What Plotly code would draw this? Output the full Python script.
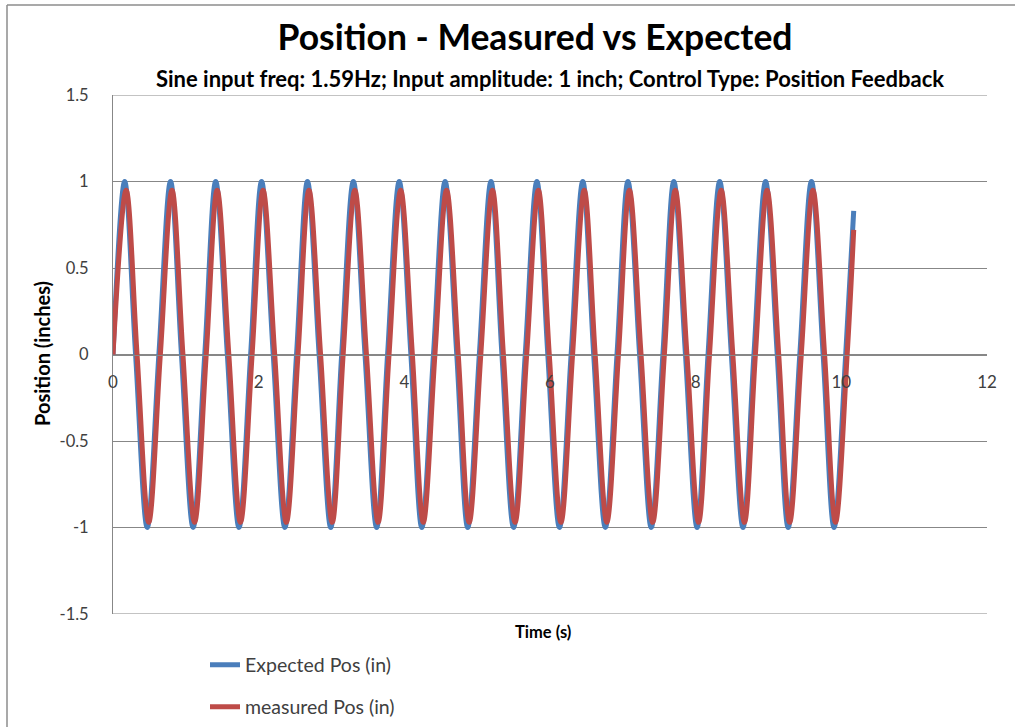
import plotly.graph_objects as go

# ---- data ----
expected_t = [0.00, 0.16, 0.31, 0.47, 0.63, 0.79, 0.94, 1.10, 1.26, 1.41, 1.57, 1.73, 1.89,
              2.04, 2.20, 2.36, 2.52, 2.67, 2.83, 2.99, 3.14, 3.30, 3.46, 3.62, 3.77, 3.93,
              4.09, 4.24, 4.40, 4.56, 4.72, 4.87, 5.03, 5.19, 5.34, 5.50, 5.66, 5.82, 5.97,
              6.13, 6.29, 6.45, 6.60, 6.76, 6.92, 7.07, 7.23, 7.39, 7.55, 7.70, 7.86, 8.02,
              8.17, 8.33, 8.49, 8.65, 8.80, 8.96, 9.12, 9.27, 9.43, 9.59, 9.75, 9.90, 10.06,
              10.17]
expected_pos = [0, 1, 0, -1, 0, 1, 0, -1, 0, 1, 0, -1, 0,
                1, 0, -1, 0, 1, 0, -1, 0, 1, 0, -1, 0, 1,
                0, -1, 0, 1, 0, -1, 0, 1, 0, -1, 0, 1, 0,
                -1, 0, 1, 0, -1, 0, 1, 0, -1, 0, 1, 0, -1,
                0, 1, 0, -1, 0, 1, 0, -1, 0, 1, 0, -1, 0,
                0.83]

measured_t = [0.00, 0.18, 0.33, 0.49, 0.65, 0.81, 0.96, 1.12, 1.28, 1.43, 1.59, 1.75, 1.91,
              2.06, 2.22, 2.38, 2.54, 2.69, 2.85, 3.01, 3.16, 3.32, 3.48, 3.64, 3.79, 3.95,
              4.11, 4.26, 4.42, 4.58, 4.74, 4.89, 5.05, 5.21, 5.36, 5.52, 5.68, 5.84, 5.99,
              6.15, 6.31, 6.47, 6.62, 6.78, 6.94, 7.09, 7.25, 7.41, 7.57, 7.72, 7.88, 8.04,
              8.19, 8.35, 8.51, 8.67, 8.82, 8.98, 9.14, 9.29, 9.45, 9.61, 9.77, 9.92, 10.08,
              10.17]
measured_pos = [0, 0.95, 0, -0.97, 0, 0.95, 0, -0.97, 0, 0.95, 0, -0.97, 0,
                0.95, 0, -0.97, 0, 0.95, 0, -0.97, 0, 0.95, 0, -0.97, 0, 0.95,
                0, -0.97, 0, 0.95, 0, -0.97, 0, 0.95, 0, -0.97, 0, 0.95, 0,
                -0.97, 0, 0.95, 0, -0.97, 0, 0.95, 0, -0.97, 0, 0.95, 0, -0.97,
                0, 0.95, 0, -0.97, 0, 0.95, 0, -0.97, 0, 0.95, 0, -0.97, 0,
                0.72]

y_ticks = [-1.5, -1, -0.5, 0, 0.5, 1, 1.5]
y_tick_text = ["-1.5", "-1", "-0.5", "0", "0.5", "1", "1.5"]
x_ticks = [0, 2, 4, 6, 8, 10, 12]
x_tick_text = ["0", "2", "4", "6", "8", "10", "12"]

FONT = "Lato"
GRID = "#878787"
TXT = "#404040"
PW, PH = 874, 519   # plot area size in px
L, B = 113, 614     # plot area left / bottom in px


def px(xp):
    return (xp - L) / PW


def py(yp):
    return (B - yp) / PH


fig = go.Figure()
fig.add_trace(go.Scatter(x=expected_t, y=expected_pos, mode="lines",
                         name="Expected Pos (in)", legend="legend",
                         line=dict(color="#4A7EBB", width=5, shape="spline", smoothing=1)))
fig.add_trace(go.Scatter(x=measured_t, y=measured_pos, mode="lines",
                         name="measured Pos (in)", legend="legend2",
                         line=dict(color="#BE4B48", width=5, shape="spline", smoothing=1)))

fig.update_layout(
    width=1015, height=727,
    margin=dict(l=113, r=28, t=95, b=113, autoexpand=False),
    paper_bgcolor="white", plot_bgcolor="white",
    font=dict(family=FONT, color=TXT, size=17),
    title=dict(text="<b>Position - Measured vs Expected</b>", x=535 / 1015, xanchor="center",
               y=1 - 38 / 727, yanchor="middle",
               font=dict(family=FONT, size=35.5, color="black")),
    xaxis=dict(range=[0, 12], tickvals=x_ticks, ticktext=x_tick_text, showgrid=False,
               zeroline=False, showline=True, linecolor=GRID, linewidth=1,
               anchor="free", position=0.5, ticks="", ticklabelstandoff=12,
               automargin=False, tickfont=dict(size=17, color=TXT)),
    yaxis=dict(range=[-1.5, 1.5], tickvals=y_ticks, ticktext=y_tick_text, showgrid=True,
               gridcolor=GRID, gridwidth=1, zeroline=False, showline=True, linecolor=GRID,
               linewidth=1, ticks="", ticklabelstandoff=20, automargin=False,
               tickfont=dict(size=16.5, color=TXT)),
    showlegend=True,
    legend=dict(x=px(205), y=py(665), xanchor="left", yanchor="middle",
                bgcolor="rgba(0,0,0,0)", font=dict(size=19.5, color=TXT)),
    legend2=dict(x=px(205), y=py(707), xanchor="left", yanchor="middle",
                 bgcolor="rgba(0,0,0,0)", font=dict(size=19.5, color=TXT)),
)

fig.add_annotation(text="<b>Sine input freq: 1.59Hz; Input amplitude: 1 inch; Control Type: Position Feedback</b>",
                   xref="paper", yref="paper", x=px(550), y=py(79),
                   xanchor="center", yanchor="middle", showarrow=False,
                   font=dict(family=FONT, size=22, color="black"))
fig.add_annotation(text="<b>Time (s)</b>", xref="paper", yref="paper",
                   x=px(543), y=py(632), xanchor="center", yanchor="middle",
                   showarrow=False, font=dict(family=FONT, size=16.5, color="black"))
fig.add_annotation(text="<b>Position (inches)</b>", xref="paper", yref="paper",
                   x=px(42), y=py(354), xanchor="center", yanchor="middle", textangle=-90,
                   showarrow=False, font=dict(family=FONT, size=20, color="black"))

# plot-area top and bottom edge lines
for yv in (1.5, -1.5):
    fig.add_shape(type="line", xref="paper", yref="y", x0=0, x1=1, y0=yv, y1=yv,
                  line=dict(color=GRID, width=1), layer="below")
# outer chart border (left and top edges visible in the picture)
fig.add_shape(type="line", xref="paper", yref="paper", x0=px(7), x1=px(7),
              y0=py(727), y1=py(5), line=dict(color="#8C8C8C", width=1.5), layer="below")
fig.add_shape(type="line", xref="paper", yref="paper", x0=px(7), x1=px(1015),
              y0=py(5), y1=py(5), line=dict(color="#8C8C8C", width=1.5), layer="below")

fig.write_html("out.html", config={"displayModeBar": False},
               post_script="document.body.style.margin='0';")
